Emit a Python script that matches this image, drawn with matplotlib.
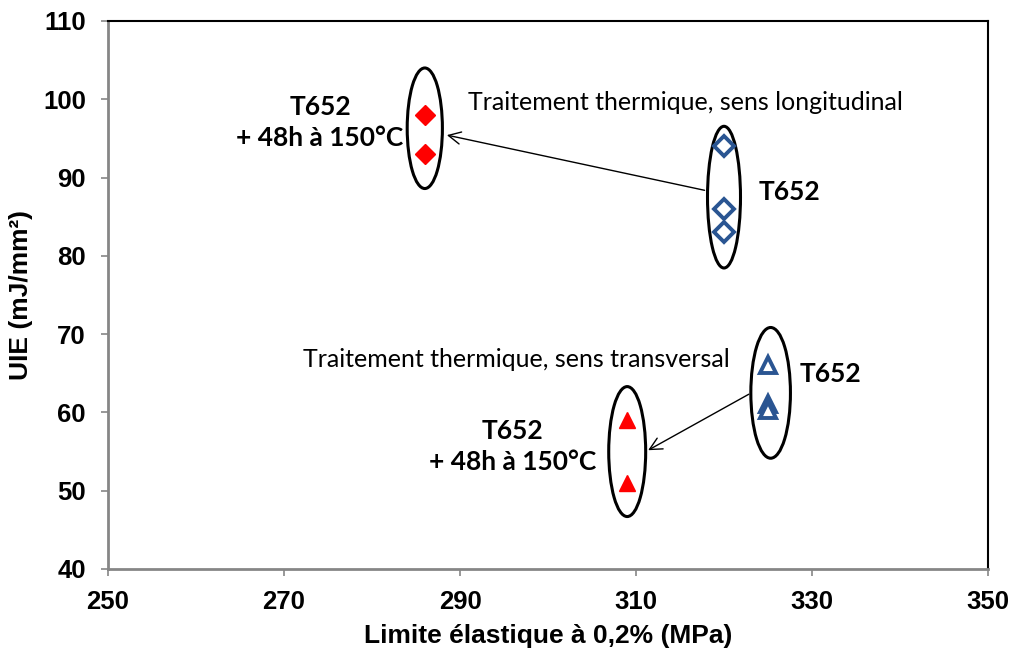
import matplotlib.pyplot as plt
from matplotlib.patches import Ellipse

# T652, sens longitudinal
long_x = [320, 320, 320]
long_y = [94, 86, 83]
# T652 + 48h a 150C, sens longitudinal
long_tt_x = [286, 286]
long_tt_y = [98, 93]
# T652, sens transversal
trans_x = [325, 325, 325]
trans_y = [66, 61.1, 60.3]
# T652 + 48h a 150C, sens transversal
trans_tt_x = [309, 309]
trans_tt_y = [59, 51]

blue = '#2a5592'
red = '#ff0000'
axis_grey = '#868686'
anno_font = 'Lato'

fig = plt.figure(figsize=(10.21, 6.57), dpi=100)
ax = fig.add_axes([108 / 1021, 1 - 569 / 657, 880 / 1021, 548 / 657])

ax.plot(long_x, long_y, 'D', ms=10.5, mfc='white', mec=blue, mew=2.8, ls='none')
ax.plot(long_tt_x, long_tt_y, 'D', ms=10.5, color=red, ls='none')
ax.plot(trans_x, trans_y, '^', ms=11.5, mfc='white', mec=blue, mew=2.8, ls='none')
ax.plot(trans_tt_x, trans_tt_y, '^', ms=11.5, color=red, ls='none')

# group ellipses
for (cx, cy, w, h) in [(320, 87.5, 3.75, 18.1), (286, 96.3, 4.0, 15.4),
                       (325.3, 62.5, 4.5, 16.7), (309, 55, 4.2, 16.6)]:
    ax.add_patch(Ellipse((cx, cy), w, h, fill=False, ec='black', lw=2.2))

# arrows
ax.annotate('', xy=(286.2 + 2.0, 95.5), xytext=(320 - 1.9, 88.3),
            arrowprops=dict(arrowstyle='->', color='black', lw=1,
                            mutation_scale=22))
ax.annotate('', xy=(309 + 2.1, 55.0), xytext=(325.3 - 2.2, 62.5),
            arrowprops=dict(arrowstyle='->', color='black', lw=1,
                            mutation_scale=22))

ax.text(274.1, 97.0, 'T652\n+ 48h à 150°C', ha='center', va='center',
        fontsize=19, fontweight='bold', family=anno_font, linespacing=1.35)
ax.text(290.9, 99.65, 'Traitement thermique, sens longitudinal', ha='left',
        va='center', fontsize=18, family=anno_font)
ax.text(323.9, 88.2, 'T652', ha='left', va='center', fontsize=19,
        fontweight='bold', family=anno_font)
ax.text(328.6, 64.9, 'T652', ha='left', va='center', fontsize=19,
        fontweight='bold', family=anno_font)
ax.text(296.4, 66.7, 'Traitement thermique, sens transversal', ha='center',
        va='center', fontsize=18, family=anno_font)
ax.text(296.0, 55.7, 'T652\n+ 48h à 150°C', ha='center', va='center',
        fontsize=19, fontweight='bold', family=anno_font, linespacing=1.35)

ax.set_xlim(250, 350)
ax.set_ylim(40, 110)
ax.set_xticks(range(250, 351, 20))
ax.set_yticks(range(40, 111, 10))
for s in ('left', 'bottom'):
    ax.spines[s].set_linewidth(2)
    ax.spines[s].set_color(axis_grey)
for s in ('top', 'right'):
    ax.spines[s].set_linewidth(1.5)
    ax.spines[s].set_color('black')
ax.tick_params(width=1.2, length=5, color=axis_grey)
ax.tick_params(axis='y', pad=11)
ax.tick_params(axis='x', pad=10)
for lab in ax.get_xticklabels() + ax.get_yticklabels():
    lab.set_fontsize(18.5)
    lab.set_fontweight('bold')
    lab.set_family('Liberation Sans')

ax.set_xlabel('Limite élastique à 0,2% (MPa)', fontsize=19, fontweight='bold',
              family='Liberation Sans', labelpad=7)
ax.set_ylabel('UIE (mJ/mm²)', fontsize=19, fontweight='bold',
              family='Liberation Sans', labelpad=7)

fig.savefig('out.png', dpi=100)
